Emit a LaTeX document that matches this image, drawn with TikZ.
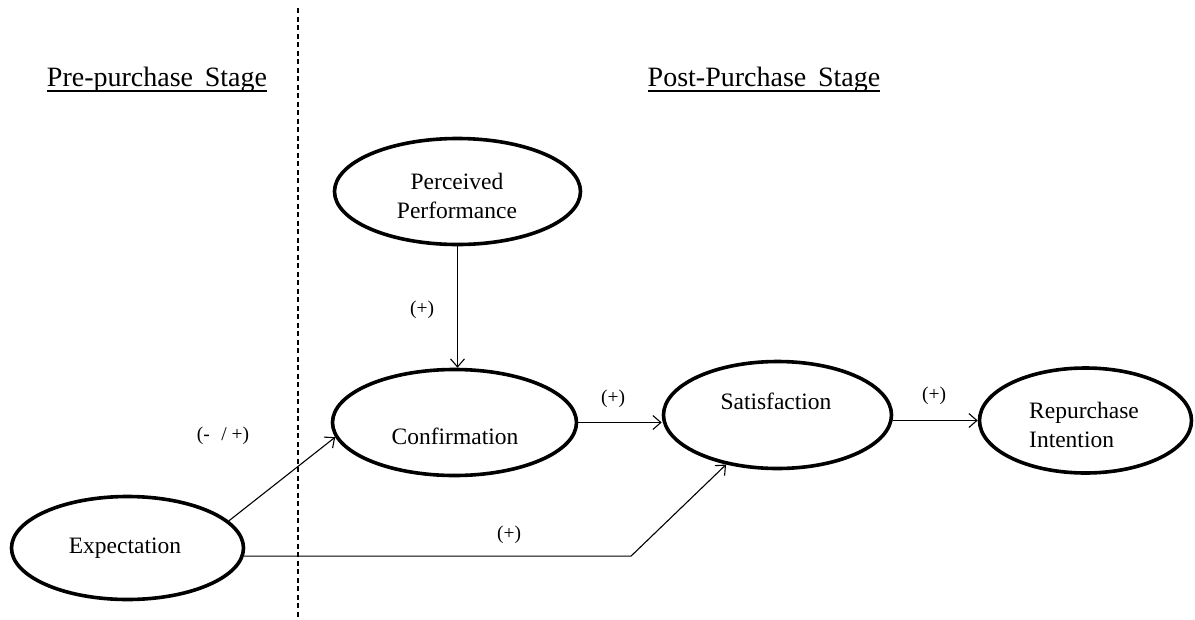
\documentclass[tikz,border=0pt]{standalone}
\usepackage{fontspec}
\setmainfont{Liberation Serif}
\usetikzlibrary{shapes.geometric,arrows.meta}
\begin{document}
\begin{tikzpicture}[x=1pt,y=-1pt,
  ell/.style={draw,ellipse,line width=3.6pt,inner sep=0pt},
  arr/.style={line width=1.1pt,-{Straight Barb[length=8pt,width=14pt,line width=1.1pt]}},
  head/.style={font=\fontsize{28}{32}\selectfont,inner sep=0pt},
  etxt/.style={font=\fontsize{23.5}{29}\selectfont,inner sep=0pt},
  lab/.style={font=\fontsize{19.5}{22}\selectfont,inner sep=0pt}]
\useasboundingbox (0,0) rectangle (1195,619);
% divider
\coordinate (dtop) at (298,8);
\coordinate (dbot) at (298,619);
\draw[line width=1.3pt,dash pattern=on 5pt off 3.5pt] (dtop) -- (dbot);
% headings
\node[head,anchor=base] (h1) at (157,86) {Pre-purchase\, Stage};
\node[head,anchor=base] (h2) at (764,86) {Post-Purchase\, Stage};
\draw[line width=1.6pt] ([yshift=-5pt]h1.base west) -- ([yshift=-5pt]h1.base east);
\draw[line width=1.6pt] ([yshift=-5pt]h2.base west) -- ([yshift=-5pt]h2.base east);
% ellipses
\node[ell,minimum width=246pt,minimum height=106pt] (pp) at (457.5,191.5) {};
\node[ell,minimum width=244pt,minimum height=106pt] (conf) at (454.5,422.5) {};
\node[ell,minimum width=228pt,minimum height=107pt] (sat) at (777.5,415) {};
\node[ell,minimum width=212pt,minimum height=105pt] (rep) at (1085.5,420.5) {};
\node[ell,minimum width=232pt,minimum height=103pt] (exp) at (127.5,548) {};
% texts
\node[etxt,align=center] (tpp) at (457,196) {Perceived\\Performance};
\node[etxt] (tconf) at (455,436) {Confirmation};
\node[etxt] (tsat) at (776,401) {Satisfaction};
\node[etxt,align=left] (trep) at (1084,425) {Repurchase\\Intention};
\node[etxt] (texp) at (125,548) {Expectation};
% connectors
\coordinate (bend) at (631,557);
\draw[arr] (pp.south) -- (pp.south |- conf.north);
\draw[arr] (conf.east) -- (conf.east -| sat.west);
\draw[arr] (rep.west -| sat.east) -- (rep.west);
\draw[arr] (exp.15) -- (conf.187);
\draw[arr] (exp.-4) -- (exp.-4 -| bend) -- (sat);
% labels
\node[lab] (l1) at (422,310) {(+)};
\node[lab] (l2) at (223,436) {(-\,\, / +)};
\node[lab] (l3) at (613,399) {(+)};
\node[lab] (l4) at (934,396) {(+)};
\node[lab] (l5) at (509,535) {(+)};
\end{tikzpicture}
\end{document}
